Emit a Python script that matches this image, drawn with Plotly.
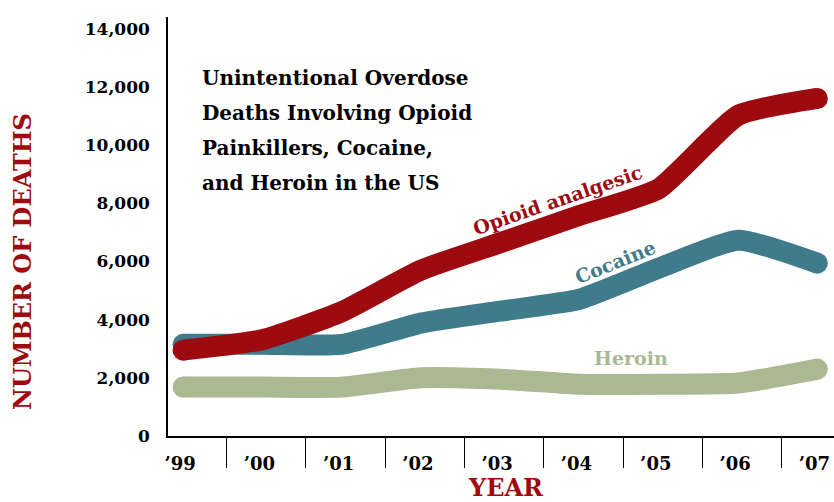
import plotly.graph_objects as go

years = [1999, 2000, 2001, 2002, 2003, 2004, 2005, 2006, 2007]
year_labels = ["’99", "’00", "’01", "’02", "’03", "’04", "’05", "’06", "’07"]
opioid = [2950, 3310, 4270, 5700, 6640, 7580, 8500, 11020, 11600]
cocaine = [3150, 3150, 3150, 3880, 4290, 4700, 5770, 6730, 5940]
heroin = [1680, 1680, 1680, 2000, 1950, 1780, 1780, 1820, 2300]
y_ticks = [0, 2000, 4000, 6000, 8000, 10000, 12000, 14000]

RED = "#9D0A10"
TEAL = "#3F7B8B"
SAGE = "#AAB992"
FONT = "DejaVu Serif"
LW = 21

fig = go.Figure()
for name, vals, col in [("Heroin", heroin, SAGE), ("Cocaine", cocaine, TEAL),
                        ("Opioid analgesic", opioid, RED)]:
    sizes = [LW] + [0] * (len(vals) - 2) + [LW]
    fig.add_trace(go.Scatter(
        x=years, y=vals, mode="lines+markers", name=name,
        line=dict(color=col, width=LW, shape="spline", smoothing=0.5),
        marker=dict(size=sizes, color=col, opacity=1, line=dict(width=0)),
        hoverinfo="skip", showlegend=False))

fig.update_layout(
    width=834, height=502,
    margin=dict(l=168, r=0, t=17, b=66),
    paper_bgcolor="white", plot_bgcolor="white",
    font=dict(family=FONT, color="black"),
    xaxis=dict(
        range=[1998.81, 2007.21], tickvals=years, ticktext=year_labels,
        ticks="", showgrid=False, zeroline=False,
        showline=True, linecolor="black", linewidth=1.5,
        tickfont=dict(family=FONT, size=18, color="black", weight="bold"),
        ticklabelstandoff=11, ticklabelshift=-3, ticklabeloverflow="allow",
        minor=dict(tick0=1999.55, dtick=1, ticks="outside", ticklen=30,
                   tickcolor="black", tickwidth=1.2, showgrid=False),
    ),
    yaxis=dict(
        range=[0, 14400], tickvals=y_ticks, tickformat=",",
        ticks="", showgrid=False, zeroline=False,
        showline=True, linecolor="black", linewidth=1.5,
        tickfont=dict(family=FONT, size=17, color="black", weight="bold"),
        ticklabelstandoff=13,
    ),
)

# Axis titles
fig.add_annotation(text="NUMBER OF DEATHS", xref="paper", yref="paper",
                   x=(22 - 168) / 666, y=(436 - 262) / 419, textangle=-90,
                   xanchor="center", yanchor="middle", showarrow=False,
                   font=dict(family=FONT, size=24, color=RED, weight="bold"))
fig.add_annotation(text="YEAR", xref="paper", yref="paper",
                   x=(506 - 168) / 666, y=(436 - 488) / 419, showarrow=False,
                   xanchor="center", yanchor="middle",
                   font=dict(family=FONT, size=24, color=RED, weight="bold"))

# Title block
title_lines = ["Unintentional Overdose", "Deaths Involving Opioid",
               "Painkillers, Cocaine,", "and Heroin in the US"]
for i, t in enumerate(title_lines):
    fig.add_annotation(text=t, xref="paper", yref="paper",
                       x=(200 - 168) / 666, y=(436 - 78 - 35 * i) / 419,
                       xanchor="left", yanchor="middle", showarrow=False,
                       font=dict(family=FONT, size=20, color="black", weight="bold"))

# Series labels
fig.add_annotation(text="Opioid analgesic", x=2003.72, y=8100, textangle=-19,
                   xanchor="center", yanchor="middle", showarrow=False,
                   font=dict(family=FONT, size=19, color=RED, weight="bold"))
fig.add_annotation(text="Cocaine", x=2004.45, y=5970, textangle=-22,
                   xanchor="center", yanchor="middle", showarrow=False,
                   font=dict(family=FONT, size=19, color=TEAL, weight="bold"))
fig.add_annotation(text="Heroin", x=2004.65, y=2680,
                   xanchor="center", yanchor="middle", showarrow=False,
                   font=dict(family=FONT, size=19, color=SAGE, weight="bold"))

fig.write_html("out.html", config={"displayModeBar": False},
               post_script="document.body.style.margin='0';")
